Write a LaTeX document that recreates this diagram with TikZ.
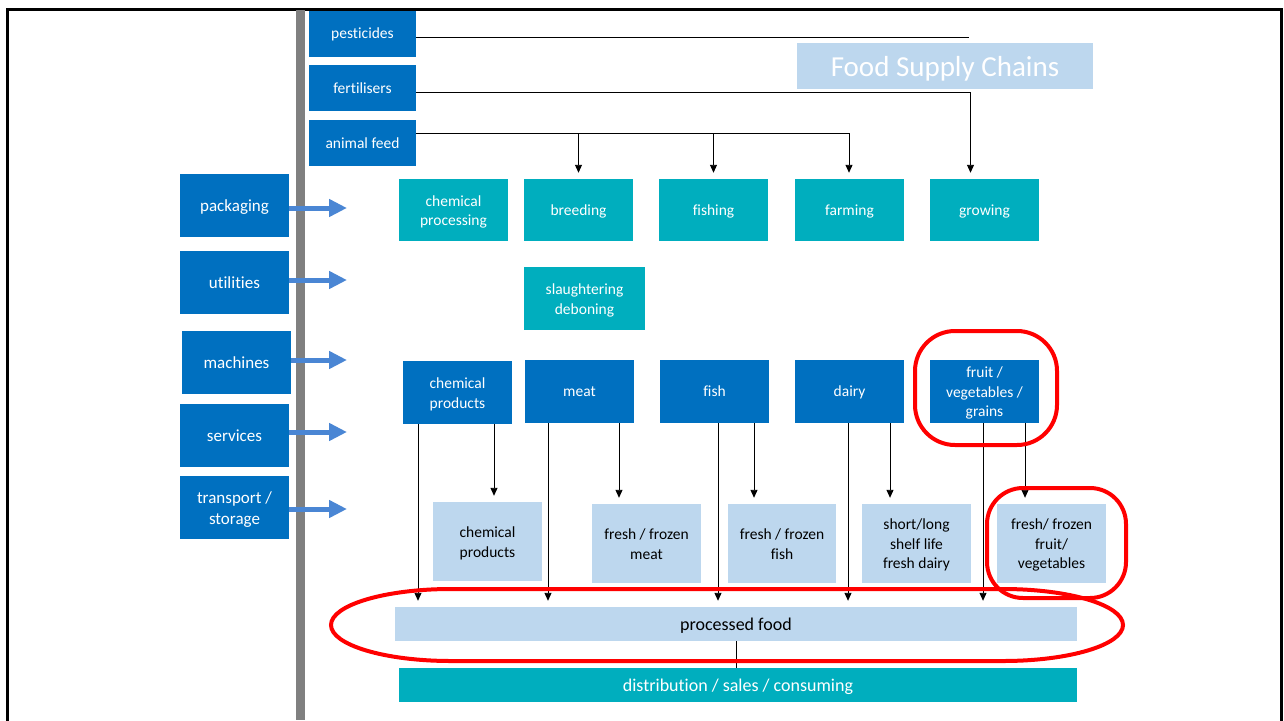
\documentclass[tikz,border=0pt]{standalone}
\usepackage{fontspec}
\setmainfont{Carlito}[Ligatures=NoCommon]
\usetikzlibrary{arrows.meta}
\definecolor{dblue}{HTML}{0070C0}
\definecolor{tealc}{HTML}{00AEBE}
\definecolor{lblue}{HTML}{BDD7EE}
\definecolor{ablue}{HTML}{4A86D4}
\definecolor{barc}{HTML}{808080}
\definecolor{hred}{HTML}{FF0000}
% centred multi-line label with even line struts, set a little low in its box
\newcommand{\stacked}[1]{\raisebox{-2pt}[\height][\depth]{\begin{tabular}{@{}c@{}}#1\end{tabular}}}

\begin{document}
\begin{tikzpicture}[x=1pt,y=-1pt,
  box/.style={rectangle, inner sep=0pt, align=center, font=\fontsize{15.5}{19.5}\selectfont,
    execute at begin node={\rule{0pt}{0.95em}},
    execute at end node={\rule[-0.25em]{0pt}{0.25em}}},
  dbox/.style={box, fill=dblue, text=white},
  tbox/.style={box, fill=tealc, text=white},
  lbox/.style={box, fill=lblue, text=black},
  inbox/.style={dbox, minimum width=107, minimum height=46},
  sidebox/.style={dbox, minimum width=109, minimum height=63, font=\fontsize{17}{21}\selectfont},
  stage/.style={tbox, minimum width=109, minimum height=62},
  product/.style={dbox, minimum width=109, minimum height=63},
  goods/.style={lbox, minimum width=109, minimum height=79},
  conn/.style={draw=black, line width=0.9pt, -{Triangle[width=7pt,length=8pt]}, shorten >=6pt},
  wire/.style={draw=black, line width=0.9pt},
  feedarrow/.style={draw=ablue, line width=5pt, -{Triangle[width=17pt,length=18pt]}},
  highlight/.style={draw=hred, line width=4pt}
]
\useasboundingbox (0,0) rectangle (1284,720);

% outer frame and the vertical divider
\draw[line width=3pt] (7.5,9) rectangle (1281.5,740);
\fill[barc] (296,10) rectangle (305,720);

% inputs
\node[inbox] (pest) at (362.5,33.5) {pesticides};
\node[inbox] (fert) at (362.5,88) {fertilisers};
\node[inbox] (feed) at (362.5,143) {animal feed};

% title
\node[box, fill=lblue, text=white, minimum width=296, minimum height=46,
      font=\fontsize{29}{34}\selectfont] (title) at (945,66) {Food Supply Chains};

% primary stages
\node[stage] (chproc) at (453.5,210) {\stacked{chemical\\processing}};
\node[stage] (breed) at (578.5,210) {breeding};
\node[stage] (fishg) at (713.5,210) {fishing};
\node[stage] (farm) at (849.5,210) {farming};
\node[stage] (grow) at (984.5,210) {growing};
\node[tbox, minimum width=121, minimum height=63] (slaugh) at (584.5,298.5) {\stacked{slaughtering\\deboning}};

% supporting services
\node[sidebox] (pack) at (234.5,205.5) {packaging};
\node[sidebox] (util) at (234.5,282.5) {utilities};
\node[sidebox] (mach) at (236.5,362.5) {machines};
\node[sidebox] (serv) at (234.5,435.5) {services};
\node[sidebox] (trans) at (234.5,507.5) {\stacked{transport /\\storage}};

% raw products
\node[product] (chprod) at (457.5,392.5) {\stacked{chemical\\products}};
\node[product] (meat) at (579.5,391.5) {meat};
\node[product] (fish) at (714.5,391.5) {fish};
\node[product] (dairy) at (849.5,391.5) {dairy};
\node[product] (fruit) at (984.5,391.5) {\stacked{fruit /\\vegetables /\\grains}};

% finished goods
\node[goods] (chgood) at (487.5,541.5) {\stacked{chemical\\products}};
\node[goods] (meatg) at (646.5,543.5) {\stacked{fresh / frozen\\meat}};
\node[goods, minimum width=108] (fishgd) at (782,543.5) {\stacked{fresh / frozen\\fish}};
\node[goods] (dairyg) at (916.5,543.5) {\stacked{short/long\\shelf life\\fresh dairy}};
\node[goods] (fruitg) at (1051.5,543.5) {\stacked{fresh/ frozen\\fruit/\\vegetables}};

\node[lbox, minimum width=682, minimum height=34, font=\fontsize{18}{22}\selectfont] (pf) at (736,624) {processed food};
\node[tbox, minimum width=678, minimum height=34, font=\fontsize{18}{22}\selectfont] (dist) at (738,685) {distribution / sales / consuming};

% input lines
\coordinate (pe) at ([yshift=-3.5pt]pest.east);
\coordinate (pend) at (969,37);
\draw[wire] (pe) -- (pend);
\coordinate (fe) at ([yshift=-4pt]fert.east);
\draw[conn] (fe) -| ([xshift=-14pt]grow.north);
\coordinate (fd) at ([yshift=10pt]feed.east);
\draw[conn] (fd) -| ([xshift=-0.5pt]farm.north);
\draw[conn] (fd -| breed.north) -- (breed.north);
\draw[conn] (fd -| fishg.north) -- (fishg.north);

% support arrows across the divider
\foreach \src/\yy/\nm in {pack/208/a, util/280/b, mach/360/c, serv/432/d, trans/509/e}{
  \coordinate (s\nm) at (\src.east |- 0,\yy);
  \coordinate (t\nm) at (347,\yy);
  \draw[feedarrow] (s\nm) -- (t\nm);
}

% raw products to processed food and to finished goods
\foreach \src/\dx/\nm in {chprod/-39.5/a, meat/-31.5/b, fish/3.5/c, dairy/-1.5/d, fruit/-1.5/e}{
  \coordinate (p\nm) at ([xshift=\dx pt]\src.south);
  \draw[conn] (p\nm) -- (p\nm |- pf.north);
}
\foreach \src/\dx/\dst/\nm in {chprod/36.5/chgood/a, meat/39.5/meatg/b, fish/39.5/fishgd/c, dairy/40.5/dairyg/d, fruit/40.5/fruitg/e}{
  \coordinate (q\nm) at ([xshift=\dx pt]\src.south);
  \draw[conn] (q\nm) -- (q\nm |- \dst.north);
}
\draw[wire] (pf.south) -- (pf.south |- dist.north);

% highlights: a flattened oval round the processed food bar, two rounded frames
\draw[highlight] (451,589) -- (1003,589)
  .. controls (1069.3,589) and (1123,605.1) .. (1123,625)
  .. controls (1123,644.9) and (1069.3,661) .. (1003,661)
  -- (451,661)
  .. controls (384.7,661) and (331,644.9) .. (331,625)
  .. controls (331,605.1) and (384.7,589) .. (451,589) -- cycle;
\draw[highlight, rounded corners=40pt] (915,331) rectangle (1057,445);
\draw[highlight, rounded corners=36pt] (987,488) rectangle (1126,598);
\end{tikzpicture}
\end{document}
